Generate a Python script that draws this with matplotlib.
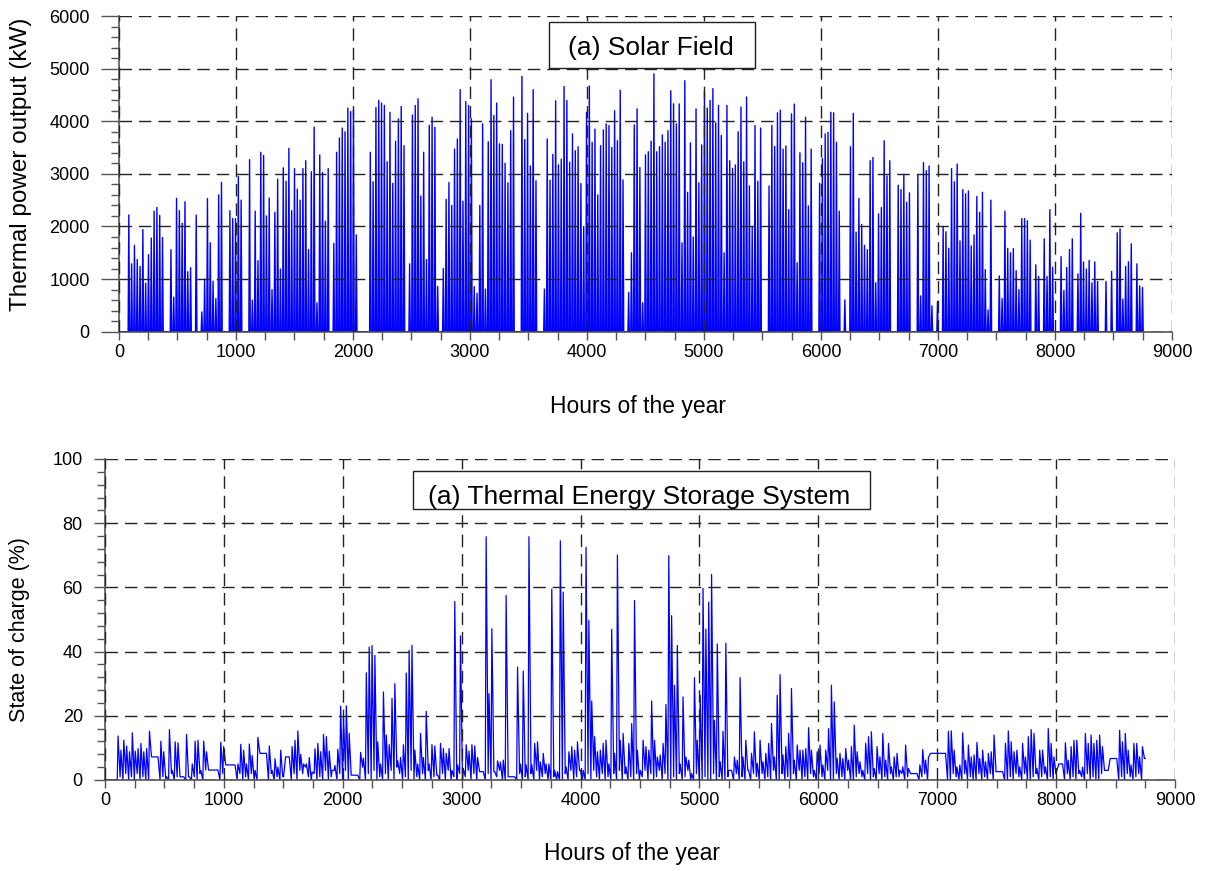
import numpy as np
import matplotlib.pyplot as plt
from matplotlib.ticker import MultipleLocator
from matplotlib.patches import Rectangle

plt.rcParams['font.family'] = ['Liberation Sans', 'DejaVu Sans']

# Pico diario de potencia termica del campo solar (kW), dia 0..364
pico_campo = [
    0, 0, 0, 2220, 1290, 1640, 1370, 1240, 1940, 920,
    1465, 1780, 2290, 2360, 2210, 1790, 0, 0, 1560, 656,
    2535, 2300, 2060, 2470, 1140, 1217, 0, 2217, 0, 376,
    1000, 2530, 1690, 960, 630, 2600, 2840, 0, 0, 2300,
    2150, 2150, 2950, 2500, 0, 0, 3270, 600, 2290, 1350,
    3410, 3350, 2200, 2540, 800, 2270, 2900, 1190, 3115, 2860,
    3485, 2300, 3100, 2707, 2500, 3100, 3250, 1560, 3040, 3890,
    550, 3360, 3025, 2100, 3100, 0, 1680, 3410, 3680, 3870,
    3800, 4250, 4185, 4220, 1840, 0, 0, 0, 0, 3410,
    2850, 4260, 4395, 4345, 4300, 3230, 4170, 2820, 3620, 4045,
    4280, 3535, 0, 1290, 4120, 4300, 4427, 2580, 3410, 1370,
    3920, 4077, 3885, 860, 0, 1200, 2516, 2835, 2400, 3470,
    3663, 4600, 2480, 4375, 4300, 4045, 860, 730, 2400, 3950,
    810, 3610, 4790, 4110, 4345, 3570, 3560, 3200, 2830, 3820,
    4460, 0, 0, 4854, 3650, 4150, 3150, 4600, 2870, 0,
    0, 810, 3663, 2880, 3370, 4390, 3170, 3280, 4660, 4395,
    3220, 3760, 3440, 3516, 2815, 2000, 4170, 4670, 3600, 3850,
    2600, 3535, 3835, 3950, 3920, 3500, 4200, 3630, 4590, 2885,
    0, 745, 1500, 3930, 4236, 3120, 550, 3360, 3420, 3620,
    4900, 3420, 3516, 3740, 3600, 3820, 4580, 4330, 3950, 4330,
    1690, 4770, 2650, 3590, 1800, 4236, 2830, 3550, 4570, 4250,
    4395, 4620, 3970, 4300, 3730, 1500, 4300, 3250, 3100, 3170,
    3800, 4270, 3230, 4460, 2770, 1990, 3920, 2860, 3870, 0,
    0, 2770, 3920, 3520, 4160, 4210, 3470, 3530, 2320, 4140,
    4325, 1310, 3400, 3210, 4077, 2390, 3470, 0, 0, 2820,
    3290, 3760, 3790, 4170, 4160, 3600, 2290, 0, 605, 0,
    3516, 4150, 1890, 2530, 2040, 1640, 1560, 3250, 3310, 930,
    2240, 2360, 3630, 2960, 3250, 0, 0, 2785, 2700, 2990,
    2460, 2640, 0, 0, 2975, 680, 3215, 3060, 3150, 490,
    0, 573, 0, 2000, 1900, 1585, 3100, 2850, 3185, 1726,
    2700, 2620, 2675, 1630, 1840, 2570, 2270, 2650, 1180, 415,
    2500, 0, 0, 1060, 630, 2290, 1585, 1500, 1580, 1160,
    800, 2150, 2150, 2110, 1740, 0, 1270, 1050, 0, 1765,
    1050, 2320, 1225, 0, 0, 1427, 785, 1220, 1560, 1765,
    0, 1100, 2250, 1325, 1190, 1355, 930, 1325, 955, 0,
    0, 955, 0, 1146, 0, 1880, 1955, 620, 1240, 1330,
    1670, 0, 1290, 870, 840,
]

# Estado de carga del almacenamiento (%): maximo diario
soc_max = [
    0, 0, 0, 0, 13.7, 9.3, 12.4, 10.6, 8.8, 14.7,
    9.0, 9.8, 11.4, 8.8, 9.8, 15.2, 7.2, 7.2, 7.2, 12.1,
    8.8, 1, 15.7, 3, 11.9, 11.6, 1, 1, 14.2, 1,
    5, 12.1, 12.4, 3, 12.1, 8.8, 3.1, 3.1, 3.1, 3.1,
    11.8, 10.4, 4.7, 4.7, 4.7, 4.7, 5, 11.1, 9.3, 5,
    11.2, 7.6, 3, 13.3, 8.3, 8.3, 8.3, 10.6, 3, 6.6,
    4, 9.3, 1, 7.2, 7.2, 10.4, 12.4, 15.3, 8, 5,
    5, 7, 2.5, 9.7, 11.4, 8.8, 14.2, 13.5, 9, 3,
    4.5, 9.6, 23, 19.7, 23.1, 14.5, 1.5, 1.5, 1.5, 8.6,
    6.8, 33.4, 41.4, 41.9, 38.8, 11.9, 5, 27.4, 14, 11,
    25.4, 30, 6, 7, 11, 33.3, 40.4, 41.9, 9.3, 5,
    14.5, 7, 21.4, 5, 11, 10.6, 1.5, 11.4, 9.8, 8.3,
    9.8, 3, 55.6, 4.7, 44.9, 3.6, 11, 9, 11, 10.6,
    7, 2.6, 2.6, 75.8, 26.9, 47.1, 2.6, 6, 5.6, 6.2,
    57.5, 1, 1, 1, 35.2, 5, 33.9, 4.7, 75.8, 4.7,
    11.4, 11.9, 5.6, 8.3, 5, 5, 59.5, 3, 2.6, 74.5,
    58.5, 4.1, 8.8, 10.4, 9.3, 11.9, 3, 3, 72.5, 49.7,
    24.6, 13.5, 8.8, 9.3, 11.4, 12.4, 5, 46.9, 8.3, 70.1,
    12.4, 14.5, 4.1, 11.4, 17.6, 55.9, 9.3, 3, 12.4, 10.4,
    9.3, 24.6, 12.4, 7.2, 7.8, 11.4, 23.5, 69.9, 51.2, 29.5,
    41.9, 5, 25.9, 7.2, 6.2, 2, 31.9, 12.4, 26.4, 59.7,
    47, 55.4, 64, 18.6, 42.4, 5.7, 15.2, 42.6, 3, 3,
    7.2, 6.2, 31.9, 7.2, 12.4, 3, 8.3, 15, 5.2, 12.4,
    5.7, 8.3, 11.4, 17.6, 7.2, 26.4, 32.8, 7.8, 10.4, 14.5,
    28.5, 6.2, 10.9, 9.3, 9.3, 9.8, 16.3, 9.3, 3, 8.8,
    10.9, 4.7, 9.3, 16, 29.5, 24.3, 6.7, 8.3, 6.7, 9.8,
    6.2, 10.4, 17.1, 8.8, 5.7, 3, 11.4, 13.5, 15, 3.6,
    10.4, 7.2, 14.5, 6.2, 11.4, 4.1, 7.2, 8.3, 3, 4.1,
    10.9, 3.6, 2, 2, 2, 4.7, 9.5, 6.2, 7, 8.3,
    8.3, 8.3, 8.3, 8.3, 8.3, 15.2, 15.3, 9.3, 4.1, 4.7,
    14.7, 6.2, 10.9, 7.2, 7.8, 11.7, 6.7, 9.3, 5.7, 8.3,
    8.8, 14, 2.6, 2.6, 2.6, 11.4, 15.3, 11.9, 8.8, 9.3,
    4.1, 11.4, 7.2, 13.5, 15.7, 14.5, 3.6, 9.3, 9.3, 4.1,
    16, 11.4, 7.2, 3, 5, 5, 11.6, 6.2, 10.4, 12.4,
    12.4, 3, 4, 14.5, 11.4, 14, 11.4, 12.4, 14, 10.4,
    3, 3, 6.7, 6.7, 6.7, 15.5, 11.9, 14.5, 9.3, 4.7,
    11.4, 11.4, 7.2, 10.4, 6.7,
]

# Estado de carga (%): minimo diario
soc_min = [
    0, 0, 0, 0, 0, 1, 0, 2, 0, 1,
    0, 2, 0, 1, 0, 0, 7.2, 7.2, 7.2, 0,
    1, 0.5, 0, 2, 0, 1, 1, 1, 0, 1,
    0, 1, 0, 2, 0, 3.1, 3.1, 3.1, 3.1, 3.1,
    0, 2, 4.7, 4.7, 4.7, 4.7, 0, 2, 0, 1,
    0, 2, 0, 0, 8.3, 8.3, 8.3, 0, 2, 0,
    1, 0, 1, 7.2, 7.2, 0, 2, 0, 3, 2,
    4, 1, 0, 2, 0, 1, 0, 3, 0, 1,
    3, 0, 2, 0, 3, 0, 1.5, 1.5, 1.5, 0,
    4, 0, 2, 0, 3, 0, 1, 0, 2, 0,
    3, 0, 4, 2, 0, 1, 0, 3, 0, 1,
    0, 2, 0, 3, 0, 1, 1.5, 0, 2, 0,
    3, 0, 1, 0, 2, 0, 1, 3, 0, 2,
    0, 2.6, 2.6, 0, 2, 0, 2.6, 1, 3, 0,
    0, 1, 1, 1, 0, 2, 0, 1, 0, 2,
    0, 3, 0, 1, 2, 0, 0, 1, 0, 0,
    0, 2, 0, 3, 0, 1, 3, 0, 0, 2,
    0, 3, 1, 0, 2, 0, 1, 0, 2, 0,
    3, 0, 2, 0, 1, 0, 2, 0, 1, 3,
    0, 2, 0, 1, 3, 0, 2, 0, 0, 1,
    0, 2, 0, 1, 3, 0, 0, 2, 0, 0,
    1, 0, 0, 2, 0, 1, 0, 0, 1, 3,
    0, 2, 0, 1, 0, 3, 0, 2, 1, 0,
    2, 0, 1, 0, 3, 0, 0, 2, 0, 1,
    0, 2, 0, 3, 0, 1, 0, 2, 1, 0,
    2, 1, 0, 3, 0, 0, 2, 0, 1, 0,
    3, 0, 0, 1, 2, 1, 0, 2, 0, 1,
    0, 2, 0, 1, 0, 2, 0, 1, 1, 2,
    0, 1, 2, 2, 2, 0, 1, 2, 0, 8.3,
    8.3, 8.3, 8.3, 8.3, 8.3, 0, 0, 2, 1, 0,
    0, 2, 0, 1, 0, 0, 2, 0, 1, 0,
    2, 0, 2.6, 2.6, 2.6, 0, 0, 1, 0, 2,
    1, 0, 2, 0, 0, 1, 2, 0, 1, 2,
    0, 1, 0, 2, 5, 5, 0, 2, 0, 1,
    0, 2, 1, 0, 2, 0, 1, 0, 0, 2,
    3, 3, 6.7, 6.7, 6.7, 0, 1, 0, 2, 1,
    0, 1, 2, 0, 6.7,
]

dias = np.arange(len(pico_campo))
hora_dia = dias * 24

fig = plt.figure(figsize=(12.06, 8.71), dpi=100)
ax1 = fig.add_axes([0.09867, 0.61917, 0.87313, 0.36246])
ax2 = fig.add_axes([0.08706, 0.10448, 0.88723, 0.36854])

# Campo solar: cada dia sube al pico y vuelve a cero
x1 = np.column_stack([hora_dia + 6, hora_dia + 12, hora_dia + 18]).ravel()
y1 = np.column_stack([np.zeros(len(dias)), pico_campo, np.zeros(len(dias))]).ravel()
ax1.plot(x1, y1, color='#0000ff', lw=1.0)

# Almacenamiento: minimo y maximo de cada dia
x2 = np.column_stack([hora_dia + 7, hora_dia + 14]).ravel()
y2 = np.column_stack([soc_min, soc_max]).ravel()
ax2.plot(x2, y2, color='#0000ff', lw=0.9)


def estilo(ax, ymax, ymayor, ymenor, largo_y):
    ax.set_xlim(0, 9000)
    ax.set_ylim(0, ymax)
    ax.xaxis.set_major_locator(MultipleLocator(1000))
    ax.xaxis.set_minor_locator(MultipleLocator(250))
    ax.yaxis.set_major_locator(MultipleLocator(ymayor))
    ax.yaxis.set_minor_locator(MultipleLocator(ymenor))
    # la rejilla va por encima de la serie
    ax.set_axisbelow(False)
    ax.grid(True, which='major', color='#222222', lw=1.0, linestyle=(0, (9, 5)))
    for lado in ['top', 'right']:
        ax.spines[lado].set_visible(False)
    for lado in ['left', 'bottom']:
        ax.spines[lado].set_color('#555555')
        ax.spines[lado].set_linewidth(1.2)
    ax.tick_params(axis='x', which='both', direction='out', length=5.5, width=1.0,
                   color='#555555', labelsize=13, pad=3)
    ax.tick_params(axis='y', which='major', direction='out', length=largo_y, width=1.0,
                   color='#555555', labelsize=13, pad=8)
    ax.tick_params(axis='y', which='minor', direction='out', length=6, width=1.0,
                   color='#555555')


estilo(ax1, 6000, 1000, 200, 13)
estilo(ax2, 100, 20, 4, 8)

# Cuadros de titulo
ax1.add_patch(Rectangle((0.4087, 0.834), 0.1949, 0.147, transform=ax1.transAxes,
                        facecolor='white', edgecolor='#222222', lw=1.0, zorder=5))
ax1.text(0.5048, 0.8758, '(a) Solar Field', transform=ax1.transAxes,
         ha='center', va='baseline', fontsize=19, zorder=6)
ax2.add_patch(Rectangle((0.2876, 0.8457), 0.4276, 0.117, transform=ax2.transAxes,
                        facecolor='white', edgecolor='#222222', lw=1.0, zorder=5))
ax2.text(0.4995, 0.861, '(a) Thermal Energy Storage System', transform=ax2.transAxes,
         ha='center', va='baseline', fontsize=19, zorder=6)

# Etiquetas de ejes
fig.text(0.5289, 0.5258, 'Hours of the year', ha='center', va='baseline', fontsize=16.5)
fig.text(0.524, 0.0126, 'Hours of the year', ha='center', va='baseline', fontsize=16.5)
fig.text(0.0174, 0.8117, 'Thermal power output (kW)', rotation=90,
         ha='center', va='center', fontsize=17.5)
fig.text(0.0160, 0.277, 'State of charge (%)', rotation=90,
         ha='center', va='center', fontsize=15.5)

fig.savefig('out.png', dpi=100)
